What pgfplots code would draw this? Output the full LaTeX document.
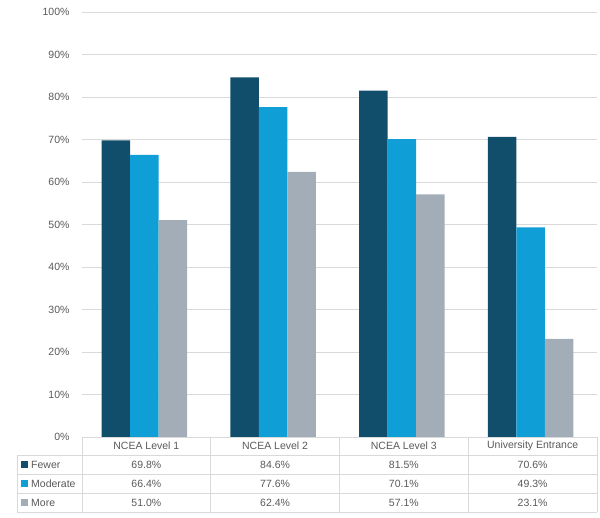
\documentclass[border=0pt]{standalone}
\usepackage{pgfplots}
\pgfplotsset{compat=1.18}
\usepackage{fontspec}
\setmainfont{Liberation Sans}
\definecolor{cFew}{HTML}{104E6B}
\definecolor{cMod}{HTML}{109ED6}
\definecolor{cMore}{HTML}{A3ADB7}
\definecolor{cGrid}{HTML}{D9D9D9}
\definecolor{cTxt}{HTML}{595959}
\begin{document}
\begin{tikzpicture}[x=1pt,y=1pt]
\useasboundingbox (-82,-80) rectangle (518,437);
\begin{axis}[
  at={(0,0)}, anchor=south west,
  scale only axis, width=515pt, height=425pt,
  xmin=-0.5, xmax=3.5, ymin=0, ymax=100,
  ytick={0,10,...,100},
  xtick=\empty,
  ymajorgrids, grid style={cGrid, line width=0.8pt},
  axis line style={draw=none},
  major tick length=0pt,
  yticklabel={\pgfmathprintnumber{\tick}\%},
  /pgf/number format/assume math mode=true,
  yticklabel style={font=\fontsize{10.5}{12}\selectfont, text=cTxt, anchor=east, xshift=-9pt},
  ybar=0pt, bar width=28.5pt,
  clip=false,
]
\addplot[fill=cFew, draw=none] coordinates {(-0.015,69.8) (0.985,84.6) (1.985,81.5) (2.985,70.6)};
\addplot[fill=cMod, draw=none] coordinates {(-0.015,66.4) (0.985,77.6) (1.985,70.1) (2.985,49.3)};
\addplot[fill=cMore, draw=none] coordinates {(-0.015,51.0) (0.985,62.4) (1.985,57.1) (2.985,23.1)};
\end{axis}
% data table
\begin{scope}[cGrid, line width=0.8pt]
\draw (0,0) -- (515,0);
\foreach \y in {-18,-37,-56,-75} \draw (-65,\y) -- (515,\y);
\draw (-65,-18) -- (-65,-75);
\foreach \x in {0,128.75,257.5,386.25,515} \draw (\x,0) -- (\x,-75);
\end{scope}
\begin{scope}[every node/.style={font=\fontsize{10.5}{12}\selectfont, text=cTxt, inner sep=0pt}]
\node at (64.375,-9) {NCEA Level 1};
\node at (193.125,-9) {NCEA Level 2};
\node at (321.875,-9) {NCEA Level 3};
\node at (450.625,-9) {University Entrance};
\fill[cFew] (-61,-31) rectangle (-54,-24);
\fill[cMod] (-61,-50) rectangle (-54,-43);
\fill[cMore] (-61,-69) rectangle (-54,-62);
\node[anchor=west] at (-51,-27.5) {Fewer};
\node[anchor=west] at (-51,-46.5) {Moderate};
\node[anchor=west] at (-51,-65.5) {More};
\node at (64.375,-27.5) {69.8\%};
\node at (193.125,-27.5) {84.6\%};
\node at (321.875,-27.5) {81.5\%};
\node at (450.625,-27.5) {70.6\%};
\node at (64.375,-46.5) {66.4\%};
\node at (193.125,-46.5) {77.6\%};
\node at (321.875,-46.5) {70.1\%};
\node at (450.625,-46.5) {49.3\%};
\node at (64.375,-65.5) {51.0\%};
\node at (193.125,-65.5) {62.4\%};
\node at (321.875,-65.5) {57.1\%};
\node at (450.625,-65.5) {23.1\%};
\end{scope}
\end{tikzpicture}
\end{document}
